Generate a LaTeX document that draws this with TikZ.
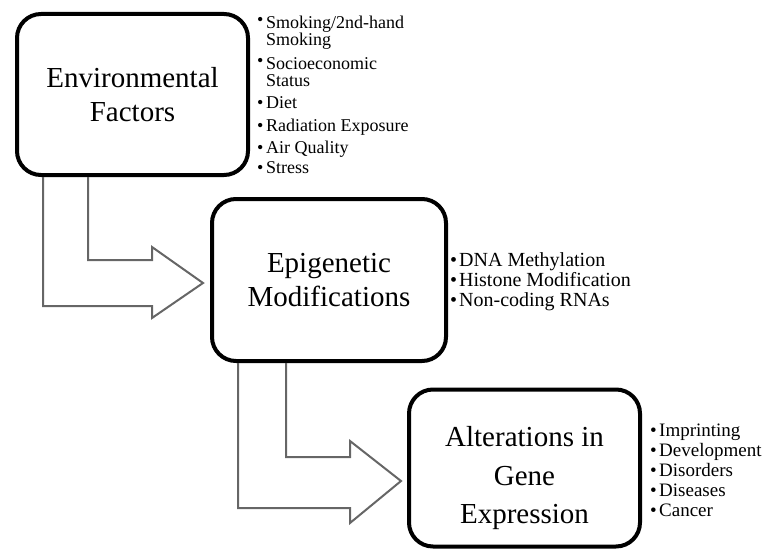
\documentclass[tikz,border=0pt]{standalone}
\usepackage{fontspec}
\setmainfont{Liberation Serif}
\usetikzlibrary{calc}
\newcommand{\itm}{\makebox[9pt][l]{\textbullet}}
\newcommand{\itmup}{\makebox[9pt][l]{\raisebox{3pt}{\textbullet}}}
\begin{document}
\begin{tikzpicture}[
        x              = 1pt,
        y              = -1pt,
        box/.style     = {draw, line width=4pt, rounded corners=24pt, align=center,
                          minimum width=231pt, minimum height=161pt,
                          font=\fontsize{29}{34}\selectfont},
        items/.style   = {anchor=north west, inner sep=0pt, align=left},
        flow/.style    = {draw=black!60, line width=2pt},
      ]
        \useasboundingbox (0,0) rectangle (767,548);
        % the three stages
        \node[box] (env) at (132.5,94.5) {Environmental\\Factors};
        \node[box, minimum width=234pt, minimum height=162pt] (epi) at (329,280) {Epigenetic\\Modifications};
        \node[box, minimum height=157pt, font=\fontsize{29}{38.5}\selectfont] (gen) at (524.5,468)
            {\raisebox{-16pt}[0pt][0pt]{\begin{tabular}{@{}c@{}}Alterations in\\Gene\\Expression\end{tabular}}};
        % what goes with each stage
        \node[items, font=\fontsize{18}{17}\selectfont] (envlist) at (257,16)
            {\itmup Smoking/2nd-hand\\ \hspace*{9pt}Smoking\\[7pt]
             \itmup Socioeconomic\\ \hspace*{9pt}Status\\[5pt]
             \itm Diet\\[6pt]
             \itm Radiation Exposure\\[5pt]
             \itm Air Quality\\[3pt]
             \itm Stress};
        \node[items, font=\fontsize{20}{20}\selectfont] (epilist) at (450,252)
            {\itm DNA Methylation\\ \itm Histone Modification\\ \itm Non-coding RNAs};
        \node[items, font=\fontsize{19}{20}\selectfont] (genlist) at (650,424)
            {\itm Imprinting\\ \itm Development\\ \itm Disorders\\ \itm Diseases\\ \itm Cancer};
        % bent block arrows
        \draw[flow] ($(env.south west)+(28,0)$) |- ($(epi.west)+(-58,26)$)
            -- ($(epi.west)+(-58,38)$) -- ($(epi.west)+(-7,3)$)
            -- ($(epi.west)+(-58,-33)$) -- ($(epi.west)+(-58,-20)$)
            -| ($(env.south west)+(73,0)$);
        \draw[flow] ($(epi.south west)+(28,0)$) |- ($(gen.west)+(-57,40)$)
            -- ($(gen.west)+(-57,55)$) -- ($(gen.west)+(-6,13)$)
            -- ($(gen.west)+(-57,-27)$) -- ($(gen.west)+(-57,-11)$)
            -| ($(epi.south west)+(76,0)$);
\end{tikzpicture}
\end{document}
